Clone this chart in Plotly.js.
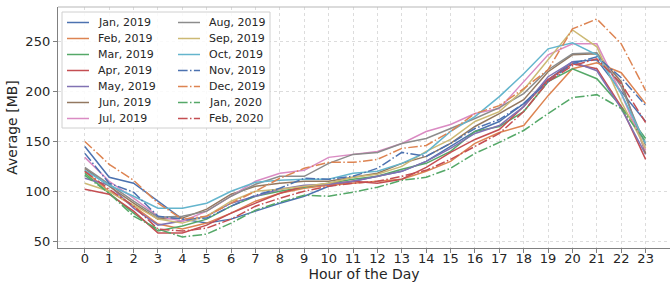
<!DOCTYPE html>
<html><head><meta charset="utf-8">
<script src="https://cdn.plot.ly/plotly-3.0.1.min.js"></script>
<style>html,body{margin:0;padding:0;background:#fff}#chart{width:670px;height:285px}</style>
</head><body><div id="chart"></div>
<script>
const hours = [0,1,2,3,4,5,6,7,8,9,10,11,12,13,14,15,16,17,18,19,20,21,22,23];
const seriesNames = ["Jan, 2019","Feb, 2019","Mar, 2019","Apr, 2019","May, 2019","Jun, 2019","Jul, 2019",
  "Aug, 2019","Sep, 2019","Oct, 2019","Nov, 2019","Dec, 2019","Jan, 2020","Feb, 2020"];
const jan2019 = [145,114,108,90,72,68,72,80,88,95,105,110,115,120,130,145,160,170,188,212,230,232,200,170];
const feb2019 = [120,100,85,67,62,68,78,90,98,103,106,108,110,112,120,130,148,159,166,196,223,229,219,188];
const mar2019 = [118,98,78,60,65,72,85,95,100,104,108,112,115,122,128,140,160,165,180,210,223,213,185,153];
const apr2019 = [102,97,80,58,58,66,78,88,98,105,107,110,108,112,124,139,152,162,185,212,228,223,185,132];
const may2019 = [113,106,83,66,70,75,88,95,102,106,107,110,115,120,130,143,158,166,185,215,230,221,183,137];
const jun2019 = [123,105,88,72,73,82,97,105,108,110,110,114,118,128,135,148,165,178,192,220,237,238,210,138];
const jul2019 = [134,110,93,75,70,80,95,110,118,121,134,137,140,148,160,167,178,183,210,237,248,248,198,141];
const aug2019 = [124,107,90,74,75,80,95,107,115,115,128,137,139,148,153,163,173,184,198,222,238,239,205,146];
const sep2019 = [108,100,86,72,68,75,90,100,102,105,108,114,117,125,140,152,170,180,202,232,262,245,190,143];
const oct2019 = [121,106,95,83,83,88,100,109,111,112,112,118,120,128,139,160,175,195,218,243,249,237,198,148];
const nov2019 = [138,108,99,75,72,73,85,96,103,113,112,115,123,139,135,148,163,172,188,210,228,235,214,186];
const dec2019 = [150,127,111,88,72,75,88,100,113,123,129,129,132,143,146,160,178,186,203,222,263,273,248,201];
const jan2020 = [116,98,75,62,54,57,68,81,89,96,95,99,104,111,114,123,138,149,161,178,194,197,183,150];
const feb2020 = [120,102,85,62,60,63,72,85,93,100,105,108,110,115,121,132,145,158,180,210,226,233,208,169];
const yTicks = [50,100,150,200,250];

const seriesValues = [jan2019,feb2019,mar2019,apr2019,may2019,jun2019,jul2019,aug2019,sep2019,oct2019,nov2019,dec2019,jan2020,feb2020];
const colors = ["#4C72B0","#DD8452","#55A868","#C44E52","#8172B3","#937860","#DA8BC3","#8C8C8C","#CCB974","#64B5CD","#4C72B0","#DD8452","#55A868","#C44E52"];
const dashDot = "9.6px,2.4px,1.5px,2.4px";
const dashes = seriesNames.map((n,i)=> i>=10 ? dashDot : "solid");

const traces = seriesValues.map((v,i)=>({
  x: hours, y: v, type:"scatter", mode:"lines", name: seriesNames[i],
  line:{color:colors[i], width:1.5, dash:dashes[i]}, showlegend:false, hoverinfo:"skip"
}));

// layout geometry (pixels)
const W=670,H=285,L=58,R=0,T=7,B=37;
const pw=W-L-R, ph=H-T-B;
const px = x => (x-L)/pw;
const py = y => (H-B-y)/ph;

const shapes = [];
const annotations = [];
// top spine
shapes.push({type:"line",xref:"paper",yref:"paper",x0:0,x1:1,y0:1,y1:1,line:{color:"#b8b8b8",width:1.2}});
// legend box
shapes.push({type:"rect",xref:"paper",yref:"paper",x0:px(62),x1:px(270),y0:py(128),y1:py(12),
  fillcolor:"rgba(255,255,255,0.85)",line:{color:"#d0d0d0",width:1}});
seriesNames.forEach((n,i)=>{
  const col = i<7?0:1, row=i%7;
  const yc = 22.5 + 16*row;
  const lx0 = col?178:67, lx1 = col?200:89, tx = col?207:96;
  shapes.push({type:"line",xref:"paper",yref:"paper",x0:px(lx0),x1:px(lx1),y0:py(yc),y1:py(yc),
    line:{color:colors[i],width:1.5,dash:dashes[i]}});
  annotations.push({xref:"paper",yref:"paper",x:px(tx),y:py(yc),xanchor:"left",yanchor:"middle",
    text:n,showarrow:false,font:{family:"DejaVu Sans",size:11,color:"#262626"}});
});

const layout = {
  width:W,height:H,margin:{l:L,r:R,t:T,b:B,pad:0},
  paper_bgcolor:"#fff",plot_bgcolor:"#fff",
  font:{family:"DejaVu Sans",size:13,color:"#262626"},
  xaxis:{range:[-1.1,24.0],tickvals:hours,ticktext:hours.map(String),ticks:"outside",ticklen:4,tickcolor:"#808080",
    ticklabelstandoff:-6,
    showline:true,linecolor:"#808080",linewidth:1.2,showgrid:true,gridcolor:"#dcdcdc",griddash:"dot",gridwidth:1,zeroline:false,
    tickfont:{size:13,color:"#262626"},
    title:{text:"Hour of the Day",font:{size:14,color:"#262626"},standoff:4}},
  yaxis:{range:[43,285],tickvals:yTicks,ticks:"outside",ticklen:4,tickcolor:"#808080",
    showline:true,linecolor:"#808080",linewidth:1.2,showgrid:true,gridcolor:"#dcdcdc",griddash:"dot",gridwidth:1,zeroline:false,
    tickfont:{size:13,color:"#262626"},
    title:{text:"Average [MB]",font:{size:14,color:"#262626"},standoff:4}},
  showlegend:false,
  shapes:shapes, annotations:annotations
};
Plotly.newPlot("chart",traces,layout,{displayModeBar:false,staticPlot:true});
</script></body></html>
